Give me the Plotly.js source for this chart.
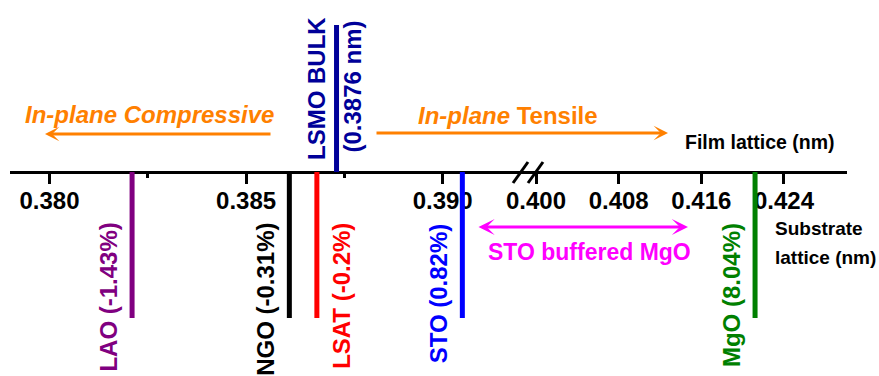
<!DOCTYPE html>
<html><head><meta charset="utf-8">
<script src="https://cdn.plot.ly/plotly-3.0.1.min.js"></script>
<style>html,body{margin:0;padding:0;background:#fff;overflow:hidden}#chart{width:879px;height:376px}</style>
</head><body><div id="chart"></div>
<script>
// ---- data ----
const substrates = ['LAO', 'NGO', 'LSAT', 'STO', 'MgO'];
const substrateLattice = [0.3821, 0.3861, 0.3868, 0.3905, 0.4212];
const mismatch = ['-1.43%', '-0.31%', '-0.2%', '0.82%', '8.04%'];
const filmName = 'LSMO BULK';
const filmLattice = 0.3873;
const filmLabel = '(0.3876 nm)';
const leftTicks = [0.380, 0.385, 0.390];
const rightTicks = [0.400, 0.408, 0.416, 0.424];
const breakValue = 0.395;

// ---- styles / layout helpers ----
const colors = ['#800080', '#000000', '#FF0000', '#0000FF', '#008000'];
const labelSide = [-1, -1, 1, -1, -1];
const FONT = 'Arial, "Liberation Sans", sans-serif';
const W = 879, H = 376, ML = 10, MR = 32;
const PW = W - ML - MR;
const px = p => (p - ML) / PW;      // pixel x -> paper
const py = p => (H - p) / H;        // pixel y -> paper
const AXIS_Y = 172;
const splitFrac = px(526);

const traces = [];
substrates.forEach((s, i) => {
  const right = substrateLattice[i] > breakValue;
  traces.push({
    x: [substrateLattice[i], substrateLattice[i]], y: [0, -146],
    xaxis: right ? 'x2' : 'x', yaxis: 'y', mode: 'lines',
    line: {color: colors[i], width: 5}, hoverinfo: 'skip', showlegend: false
  });
});
traces.push({
  x: [filmLattice, filmLattice], y: [0, 147], xaxis: 'x', yaxis: 'y', mode: 'lines',
  line: {color: '#000099', width: 5}, hoverinfo: 'skip', showlegend: false
});

const annotations = [];
substrates.forEach((s, i) => {
  const right = substrateLattice[i] > breakValue;
  annotations.push({
    x: substrateLattice[i], xref: right ? 'x2' : 'x', y: -49, yref: 'y',
    text: s + ' (' + mismatch[i] + ')', textangle: -90, showarrow: false,
    xanchor: 'center', yanchor: 'top', xshift: labelSide[i] * 24,
    font: {family: FONT, size: 24, color: colors[i], weight: 'bold'}
  });
});
annotations.push({
  x: filmLattice, xref: 'x', y: 10, yref: 'y', text: filmName, textangle: -90, showarrow: false,
  xanchor: 'center', yanchor: 'bottom', xshift: -20,
  font: {family: FONT, size: 24, color: '#000099', weight: 'bold'}
});
annotations.push({
  x: filmLattice, xref: 'x', y: 17, yref: 'y', text: filmLabel, textangle: -90, showarrow: false,
  xanchor: 'center', yanchor: 'bottom', xshift: 15,
  font: {family: FONT, size: 24, color: '#000099', weight: 'bold'}
});
// orange strain texts and arrows
annotations.push({x: px(149), y: py(114), xref: 'paper', yref: 'paper', showarrow: false,
  text: '<i>In-plane Compressive</i>', xanchor: 'center', yanchor: 'middle',
  font: {family: FONT, size: 24, color: '#FF8000', weight: 'bold'}});
annotations.push({x: px(508), y: py(115), xref: 'paper', yref: 'paper', showarrow: false,
  text: '<i>In-plane</i> Tensile', xanchor: 'center', yanchor: 'middle',
  font: {family: FONT, size: 24, color: '#FF8000', weight: 'bold'}});
annotations.push({x: px(45), y: py(134), xref: 'paper', yref: 'paper', text: '', showarrow: true,
  ax: 227, ay: 0, arrowhead: 3, arrowsize: 0.8, arrowwidth: 3, arrowcolor: '#FF8000'});
annotations.push({x: px(668), y: py(133), xref: 'paper', yref: 'paper', text: '', showarrow: true,
  ax: -293, ay: 0, arrowhead: 3, arrowsize: 0.8, arrowwidth: 3, arrowcolor: '#FF8000'});
// axis captions
annotations.push({x: px(760), y: py(142), xref: 'paper', yref: 'paper', showarrow: false,
  text: 'Film lattice (nm)', xanchor: 'center', yanchor: 'middle',
  font: {family: FONT, size: 19.5, color: '#000', weight: 'bold'}});
annotations.push({x: px(773), y: py(228), xref: 'paper', yref: 'paper', showarrow: false,
  text: 'Substrate', xanchor: 'left', yanchor: 'middle',
  font: {family: FONT, size: 19, color: '#000', weight: 'bold'}});
annotations.push({x: px(773), y: py(257), xref: 'paper', yref: 'paper', showarrow: false,
  text: 'lattice (nm)', xanchor: 'left', yanchor: 'middle',
  font: {family: FONT, size: 19, color: '#000', weight: 'bold'}});
// STO buffered MgO
annotations.push({x: px(688), y: py(227), xref: 'paper', yref: 'paper', text: '', showarrow: true,
  ax: -211, ay: 0, arrowhead: 3, startarrowhead: 3, arrowside: 'end+start', arrowsize: 0.9,
  startarrowsize: 0.9, arrowwidth: 3, arrowcolor: '#FF00FF'});
annotations.push({x: px(589), y: py(252), xref: 'paper', yref: 'paper', showarrow: false,
  text: 'STO buffered MgO', xanchor: 'center', yanchor: 'middle',
  font: {family: FONT, size: 23, color: '#FF00FF', weight: 'bold'}});

const shapes = [
  {type: 'line', xref: 'paper', yref: 'paper', x0: px(513), y0: py(183), x1: px(528), y1: py(162), line: {color: '#000', width: 3}},
  {type: 'line', xref: 'paper', yref: 'paper', x0: px(528), y0: py(183), x1: px(543), y1: py(162), line: {color: '#000', width: 3}}
];

const axisCommon = {
  anchor: 'free', position: 1 - AXIS_Y / H, showline: true, linecolor: '#000', linewidth: 3,
  ticks: 'outside', ticklen: 10, tickwidth: 3, tickcolor: '#000', showgrid: false, zeroline: false,
  tickfont: {family: FONT, size: 24, color: '#000', weight: 'bold'}, tickformat: '.3f',
  tickmode: 'array', layer: 'below traces', fixedrange: true, ticklabelstandoff: -4
};

const layout = {
  width: W, height: H, margin: {l: ML, r: MR, t: 0, b: 0, pad: 0},
  paper_bgcolor: '#fff', plot_bgcolor: '#fff', showlegend: false,
  xaxis: Object.assign({}, axisCommon, {domain: [0, splitFrac], range: [0.378995, 0.392119],
    tickvals: leftTicks, ticktext: leftTicks.map(v => v.toFixed(3)),
    minor: {tickmode: 'linear', tick0: 0.3825, dtick: 0.005, ticks: 'outside', ticklen: 4, tickwidth: 3, tickcolor: '#000', showgrid: false}}),
  xaxis2: Object.assign({}, axisCommon, {domain: [splitFrac, 1], range: [0.399032, 0.430098],
    tickvals: rightTicks, ticktext: rightTicks.map(v => v.toFixed(3))}),
  yaxis: {domain: [0, 1], range: [-204, 172], visible: false, fixedrange: true, anchor: 'x'},
  annotations: annotations, shapes: shapes
};

Plotly.newPlot('chart', traces, layout, {staticPlot: true, displayModeBar: false});
</script></body></html>
